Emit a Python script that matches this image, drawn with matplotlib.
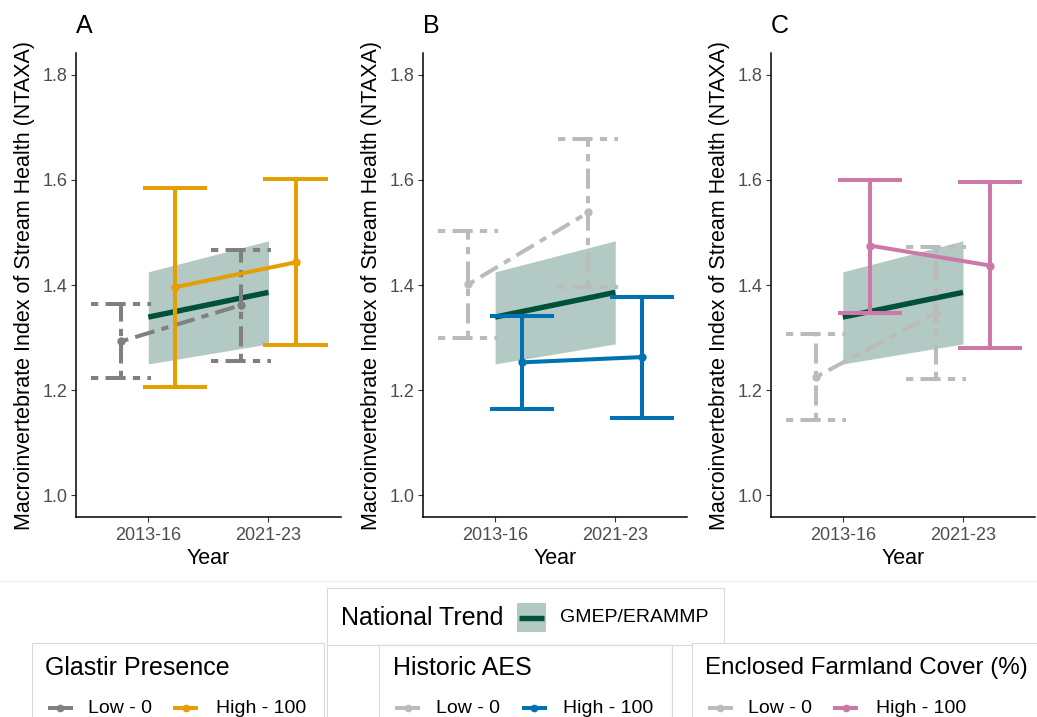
import numpy as np
import matplotlib
matplotlib.use('Agg')
from matplotlib import pyplot as plt
from matplotlib.patches import Rectangle

plt.rcParams['font.family'] = ['Liberation Sans', 'DejaVu Sans']

# data
years = ['2013-16', '2021-23']
panel_tags = ['A', 'B', 'C']

nat_fit = [1.339, 1.386]
nat_lo = [1.250, 1.288]
nat_hi = [1.425, 1.484]

glastir_low = [1.293, 1.362]
glastir_low_lo = [1.223, 1.256]
glastir_low_hi = [1.363, 1.467]
glastir_high = [1.396, 1.443]
glastir_high_lo = [1.207, 1.286]
glastir_high_hi = [1.584, 1.601]

aes_low = [1.401, 1.538]
aes_low_lo = [1.300, 1.397]
aes_low_hi = [1.502, 1.678]
aes_high = [1.253, 1.263]
aes_high_lo = [1.164, 1.148]
aes_high_hi = [1.342, 1.377]

farm_low = [1.225, 1.347]
farm_low_lo = [1.144, 1.221]
farm_low_hi = [1.307, 1.473]
farm_high = [1.475, 1.437]
farm_high_lo = [1.347, 1.281]
farm_high_hi = [1.600, 1.595]

legend_titles = ['Glastir Presence', 'Historic AES', 'Enclosed Farmland Cover (%)']
level_labels = ['Low - 0', 'High - 100']

low_cols = ['#808080', '#BBBBBB', '#BBBBBB']
high_cols = ['#E69F00', '#0072B2', '#CC79A7']
green = '#00503A'

panels = [
    (glastir_low, glastir_low_lo, glastir_low_hi, glastir_high, glastir_high_lo, glastir_high_hi),
    (aes_low, aes_low_lo, aes_low_hi, aes_high, aes_high_lo, aes_high_hi),
    (farm_low, farm_low_lo, farm_low_hi, farm_high, farm_high_lo, farm_high_hi),
]

W, H = 1037, 717
fig = plt.figure(figsize=(W / 100, H / 100), dpi=100)

def px_axes(left, top, right, bottom):
    return fig.add_axes([left / W, 1 - bottom / H, (right - left) / W, (bottom - top) / H])

twodash = (0, (1.8, 1.8, 5, 1.8))
x = np.arange(1, len(years) + 1)
dodge = 0.225
capw = 0.25
lw = 2.9

def group(ax, xs, mean, lo, hi, col, ls):
    for xi, m, l, h in zip(xs, mean, lo, hi):
        ax.plot([xi, xi], [l, h], color=col, lw=lw, ls=ls, zorder=3)
        ax.plot([xi - capw, xi + capw], [h, h], color=col, lw=lw, ls=ls, zorder=3)
        ax.plot([xi - capw, xi + capw], [l, l], color=col, lw=lw, ls=ls, zorder=3)
    ax.plot(xs, mean, color=col, lw=lw, ls=ls, zorder=3)
    ax.plot(xs, mean, 'o', color=col, ms=5, zorder=4)

lefts = [76.2, 423.0, 770.7]
for i, left in enumerate(lefts):
    ax = px_axes(left, 53.5, left + 264.4, 516.5)
    ax.fill_between(x, nat_lo, nat_hi, color=green, alpha=0.3, lw=0, zorder=1)
    ax.plot(x, nat_fit, color=green, lw=3.9, solid_capstyle='butt', zorder=2)
    lm, ll, lh, hm, hl, hh = panels[i]
    group(ax, x - dodge, lm, ll, lh, low_cols[i], twodash)
    group(ax, x + dodge, hm, hl, hh, high_cols[i], '-')

    ax.set_xlim(0.4, 2.6)
    ax.set_ylim(0.96, 1.84)
    ax.set_xticks(x)
    ax.set_xticklabels(years)
    ax.set_yticks([1.0, 1.2, 1.4, 1.6, 1.8])
    ax.set_yticklabels(['1.0', '1.2', '1.4', '1.6', '1.8'])
    for s in ['top', 'right']:
        ax.spines[s].set_visible(False)
    for s in ['left', 'bottom']:
        ax.spines[s].set_linewidth(1.1)
        ax.spines[s].set_color('black')
    ax.tick_params(labelsize=13, labelcolor='#4D4D4D', color='#333333',
                   length=3.5, width=0.8, pad=2.5)
    ax.tick_params(axis='x', pad=4)
    ax.set_xlabel('Year', fontsize=15.5, labelpad=3)
    ax.set_ylabel('Macroinvertebrate Index of Stream Health (NTAXA)', fontsize=15.5)
    ax.yaxis.set_label_coords(-0.154, 0.5)
    ax.text(0.0, 1.06, panel_tags[i], transform=ax.transAxes, fontsize=18,
            ha='left', va='center')

# legend area drawn in pixel space
lg = fig.add_axes([0, 0, 1, 1])
lg.set_xlim(0, W)
lg.set_ylim(H, 0)
lg.axis('off')
lg.patch.set_alpha(0)

edge = '#D9D9D9'
lg.plot([0, W], [581, 581], color='#EBEBEB', lw=0.8)

def box(x0, y0, x1, y1):
    lg.add_patch(Rectangle((x0, y0), x1 - x0, y1 - y0, facecolor='white',
                           edgecolor=edge, lw=0.8, clip_on=True))

box(326.7, 588.3, 724, 645)
box(31.7, 642.7, 324.3, 760)
box(326.7, 645, 672, 760)
box(379, 645, 672, 760)
box(672, 645, 1060, 760)
box(692, 643, 1060, 760)

# national trend legend
lg.text(340.7, 617.7, 'National Trend', fontsize=18, ha='left', va='center')
lg.add_patch(Rectangle((516.7, 603), 29, 29, facecolor=green, alpha=0.3, lw=0))
lg.plot([519, 543.5], [617.7, 617.7], color=green, lw=3.9, solid_capstyle='butt')
lg.text(560, 617.7, 'GMEP/ERAMMP', fontsize=14, ha='left', va='center')

title_x = [45, 392.7, 705]
title_size = [18, 18, 17.4]
key_low = [47.7, 395, 707.7]
txt_low = [88, 435.5, 748.3]
key_high = [173, 521.7, 833.3]
txt_high = [216, 562.7, 876]
yk = 708.3
for i in range(3):
    lg.text(title_x[i], 667.7, legend_titles[i], fontsize=title_size[i],
            ha='left', va='center')
    for kx, tx, col, lab in [(key_low[i], txt_low[i], low_cols[i], level_labels[0]),
                             (key_high[i], txt_high[i], high_cols[i], level_labels[1])]:
        lg.plot([kx, kx + 25], [yk, yk], color=col, lw=lw, solid_capstyle='butt')
        lg.plot([kx + 12.5], [yk], 'o', color=col, ms=4.5)
        lg.text(tx, yk, lab, fontsize=14, ha='left', va='center')

plt.savefig('out.png', dpi=100)
plt.close()
